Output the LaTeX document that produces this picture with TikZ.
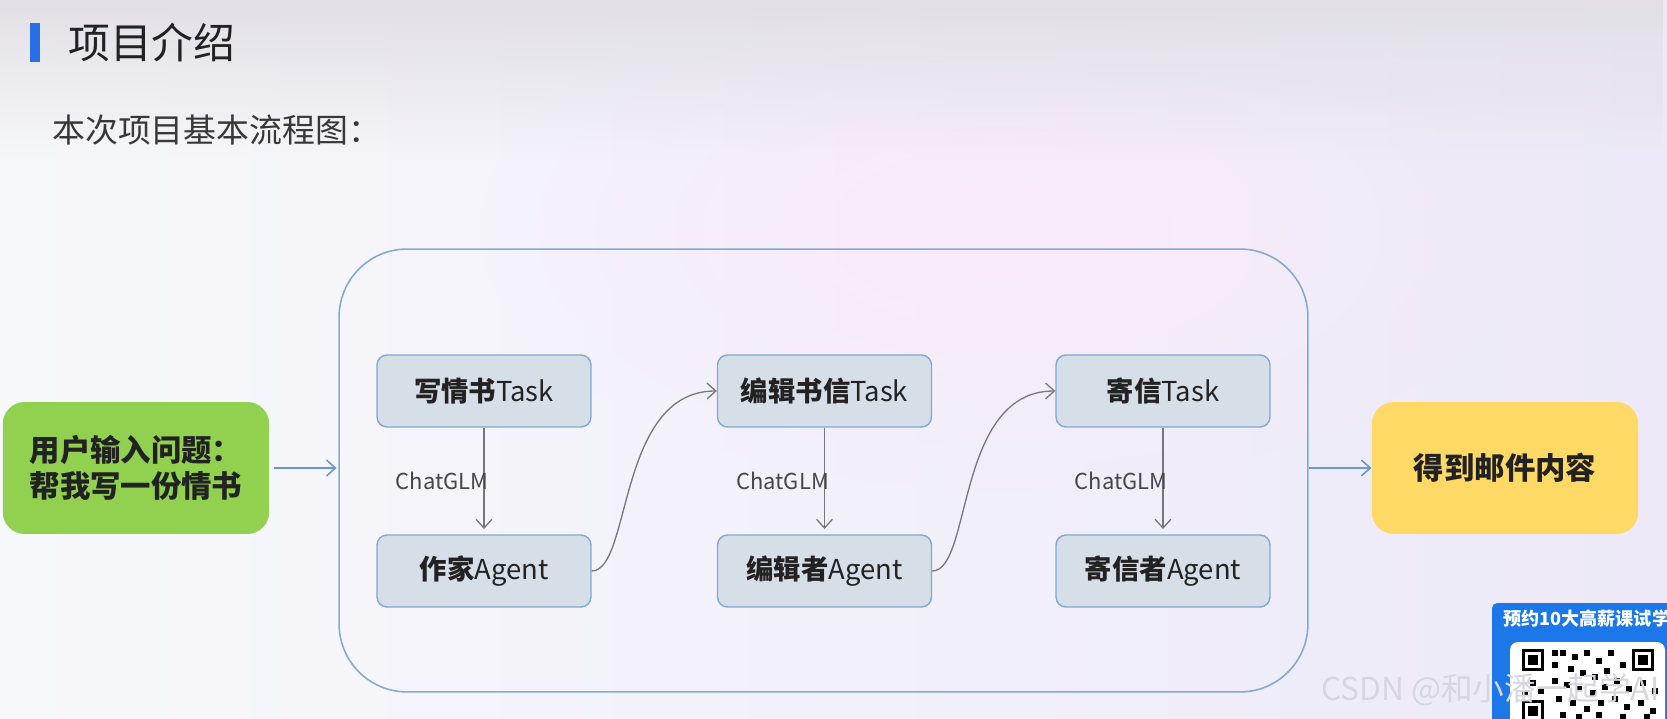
\documentclass[tikz,border=0pt]{standalone}
\usepackage{fontspec}
\setmainfont{Noto Sans CJK SC}
\usepackage{xcolor}
\usepackage{tikz}
\usetikzlibrary{arrows.meta, positioning, fadings}
\definecolor{titleblue}{RGB}{40,110,230}
\definecolor{boxfill}{RGB}{214,222,232}
\definecolor{boxline}{RGB}{128,168,210}
\definecolor{frameline}{RGB}{132,170,212}
\definecolor{flowblue}{RGB}{104,152,204}
\definecolor{inputgreen}{RGB}{146,208,80}
\definecolor{outputyellow}{RGB}{255,217,102}
\definecolor{linkgray}{RGB}{120,120,124}
\definecolor{textdark}{RGB}{34,34,34}
\definecolor{qrblue}{RGB}{28,120,232}
\definecolor{bgleft}{RGB}{247,248,251}
\definecolor{bgright}{RGB}{237,233,248}
\definecolor{bgtop}{RGB}{226,224,230}
\definecolor{pinkwash}{RGB}{250,234,250}
\definecolor{markgray}{RGB}{214,214,222}
\tikzfading[name=fadedown, top color=transparent!0, bottom color=transparent!100]
\tikzfading[name=fadeblob, inner color=transparent!0, outer color=transparent!100]

\tikzset{
  stepbox/.style={rectangle, rounded corners=0.2cm, draw=boxline, line width=0.8pt,
    fill=boxfill, minimum width=4.28cm, minimum height=1.44cm,
    font=\fontsize{15.6}{18}\selectfont, text=textdark},
  endbox/.style={rectangle, rounded corners=0.44cm, minimum width=5.33cm,
    minimum height=2.64cm, align=center, text=textdark,
    font=\fontsize{17.3}{20.5}\selectfont\bfseries},
  flow/.style={-{Straight Barb[length=5pt,width=9pt]}, draw=flowblue, line width=0.9pt},
  link/.style={-{Straight Barb[length=5pt,width=9pt]}, draw=linkgray, line width=0.75pt},
  glm/.style={midway, anchor=east, inner sep=0pt, xshift=0.1cm,
    font=\fontsize{12.5}{15}\selectfont, text=black!72},
}

\begin{document}
\begin{tikzpicture}[x=0.02cm, y=-0.02cm]
    % Background
    \useasboundingbox (0,0) rectangle (1667,719);
    \shade[left color=bgleft, right color=bgright] (0,0) rectangle (1667,719);
    \fill[pinkwash, path fading=fadeblob] (1000,230) ellipse (520 and 260);
    \fill[bgtop, path fading=fadedown] (0,0) rectangle (1667,160);

    % Title
    \fill[titleblue] (30,23) rectangle (40,62);
    \node[anchor=west, inner sep=0pt, font=\fontsize{23.8}{28}\selectfont, text=textdark]
        (title) at (68,43) {项目介绍};
    \node[anchor=west, inner sep=0pt, font=\fontsize{18.7}{22}\selectfont, text=black!78]
        (subtitle) at (52,130) {本次项目基本流程图：};

    % Crew frame
    \node[draw=frameline, line width=0.9pt, rounded corners=1.36cm,
          minimum width=19.38cm, minimum height=8.86cm] (crew) at (823.5,470.5) {};

    % Input and output
    \node[endbox, fill=inputgreen] (ask) at (136,468) {用户输入问题：\\帮我写一份情书};
    \node[endbox, fill=outputyellow] (mail) at (1505,468) {得到邮件内容};

    % Tasks and agents
    \node[stepbox] (write)  at (484,391)   {\textbf{写情书}Task};
    \node[stepbox] (writer) at (484,571)   {\textbf{作家}Agent};
    \node[stepbox] (edit)   at (824.5,391) {\textbf{编辑书信}Task};
    \node[stepbox] (editor) at (824.5,571) {\textbf{编辑者}Agent};
    \node[stepbox] (send)   at (1163,391)  {\textbf{寄信}Task};
    \node[stepbox] (sender) at (1163,571)  {\textbf{寄信者}Agent};

    % Connectors
    \draw[flow, shorten <=2.8pt, shorten >=1pt] (ask.east) -- (ask.east -| crew.west);
    \draw[flow] (crew.east |- mail.west) -- (mail.west);
    \draw[link, shorten >=3pt] (write) -- node[glm] {ChatGLM} (writer);
    \draw[link, shorten >=3pt] (edit) -- node[glm] {ChatGLM} (editor);
    \draw[link, shorten >=3pt] (send) -- node[glm] {ChatGLM} (sender);
    \draw[link] (writer.east) .. controls +(40,0) and +(-100,0) .. (edit.west);
    \draw[link] (editor.east) .. controls +(40,0) and +(-100,0) .. (send.west);

    % Corner badge
    \fill[qrblue, rounded corners=3pt] (1492,603) rectangle (1700,740);
    \node[anchor=west, inner sep=0pt, text=white, font=\fontsize{10.3}{12}\selectfont\bfseries]
        (badge) at (1503,619) {预约10大高薪课试学};
    \fill[white, rounded corners=0.16cm] (1510,642) rectangle (1665,740);
    \foreach \qx in {1522,1632} {
        \fill[black] (\qx,649) rectangle ++(22,22);
        \fill[white] (\qx+3,652) rectangle ++(16,16);
        \fill[black] (\qx+6,655) rectangle ++(10,10);
    }
    \fill[black] (1522,700) rectangle ++(22,22);
    \fill[white] (1525,703) rectangle ++(16,16);
    \fill[black] (1528,706) rectangle ++(10,10);
    \foreach \mx/\my in {1552/650,1560/650,1572/654,1584/650,1596/658,1608/650,1620/662,
        1552/662,1568/666,1580/670,1592/674,1604/668,1552/678,1564/682,1576/686,1590/690,
        1602/684,1614/678,1626/686,1640/680,1652/688,1556/696,1570/700,1584/706,1598/700,
        1612/696,1624/704,1638/700,1650/708,1560/712,1576/714,1596/712,1620/714,1644/714,
        1530/680,1538/688,1522/690} {
        \fill[black] (\mx,\my) rectangle ++(6,6);
    }

    % Watermark
    \node[anchor=west, inner sep=0pt, text=markgray, font=\fontsize{18}{20}\selectfont]
        (mark) at (1321,690) {CSDN @和小潘一起学AI};
\end{tikzpicture}
\end{document}
